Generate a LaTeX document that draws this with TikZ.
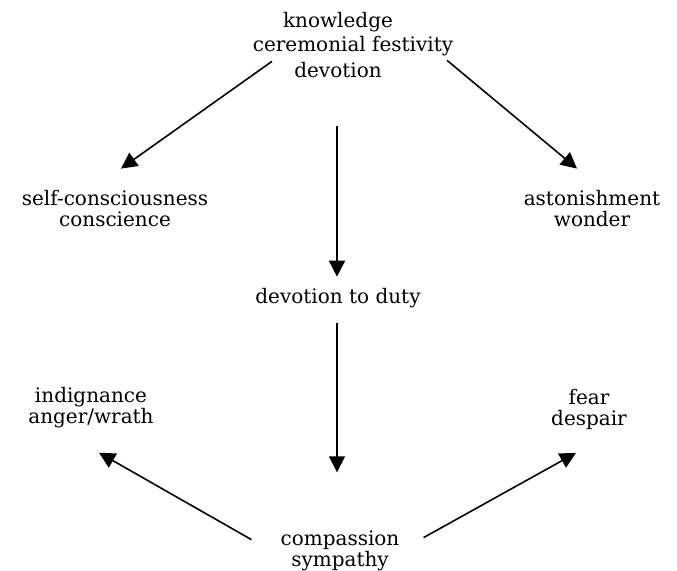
\documentclass[tikz,border=0pt]{standalone}
\usepackage{fontspec}
\setmainfont{DejaVu Serif}
\usetikzlibrary{arrows.meta}

\tikzset{
  term/.style={font=\fontsize{20}{21}\selectfont, align=center, inner sep=0pt},
  arr/.style={line width=1.6pt, -{Triangle[length=16pt,width=16pt]}}
}

\begin{document}
\begin{tikzpicture}[x=1pt,y=-1pt]
\useasboundingbox (0,0) rectangle (677,570);
% feelings round the centre
\node[term] (top) at (338,45.4) {knowledge\\[3pt]\hspace*{30pt}ceremonial festivity\\[5pt]devotion};
\node[term] (selfcons) at (115,209) {self-consciousness\\conscience};
\node[term] (aston) at (592,209) {astonishment\\wonder};
\node[term] (duty) at (338,297.7) {devotion to duty};
\node[term] (indig) at (91,407.2) {indignance\\anger/wrath};
\node[term] (fear) at (589,409.5) {fear\\despair};
\node[term] (compassion) at (340,550.6) {compassion\\sympathy};
% arrows
\draw[arr] ([shift={(-66,-17)}]top.south) -- ([shift={(6,-22)}]selfcons.north);
\draw[arr] ([shift={(109,-18)}]top.south) -- ([shift={(-15,-22)}]aston.north);
\draw[arr] ([shift={(-1,48)}]top.south) -- ([shift={(-1,-11)}]duty.north);
\draw[arr] ([shift={(-1,15)}]duty.south) -- ([shift={(-3,-58)}]compassion.north);
\draw[arr] ([shift={(-29,-11)}]compassion.west) -- ([shift={(8,25)}]indig.south);
\draw[arr] ([shift={(24,-13)}]compassion.east) -- ([shift={(-13,23)}]fear.south);
\end{tikzpicture}
\end{document}
